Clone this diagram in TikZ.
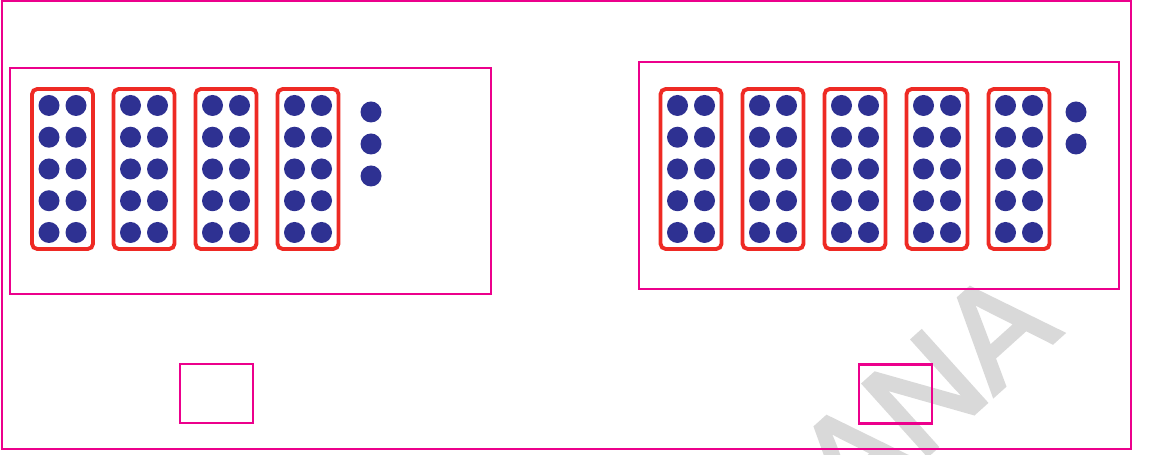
\documentclass[tikz,border=0pt]{standalone}
\usepackage{fontspec}
\setmainfont{Liberation Sans}
\newfontfamily\markfont[FakeBold=3]{Liberation Sans}
\definecolor{frmag}{HTML}{EC008C}
\definecolor{tenred}{HTML}{EE2A24}
\definecolor{dotblue}{HTML}{2E3192}
\definecolor{wmgray}{HTML}{D9D9D9}

\begin{document}
\begin{tikzpicture}[
  panel/.style={draw=frmag, line width=1.3pt, fill=none},
  tenframe/.style={draw=tenred, line width=2.2pt, rounded corners=3pt,
    minimum width=1.22cm, minimum height=3.2cm, inner sep=0pt},
  dot/.style={fill=dotblue},
  ansbox/.style={draw=frmag, line width=1.3pt, minimum width=1.46cm,
    minimum height=1.18cm, inner sep=0pt},
]

% Canvas
\useasboundingbox (0,0) rectangle (22.98,9.1);
\clip (0,0) rectangle (22.98,9.1);

% Watermark
\node[font=\markfont\fontsize{79}{79}\selectfont, text=wmgray, rotate=42,
  anchor=base east, inner sep=0pt] (mark) at (21.26,2.44) {ANA};

% Outer frame
\draw[panel] (0.04,9.08) rectangle (22.62,0.12);

% =============================================
% Left panel: four tens and three ones
% =============================================
\draw[panel] (0.2,7.74) rectangle (9.82,3.22);

\foreach \i/\x in {1/1.25, 2/2.88, 3/4.52, 4/6.16} {
  \node[tenframe] (L\i) at (\x,5.72) {};
  \foreach \dy in {1.27,0.635,0,-0.635,-1.27} {
    \fill[dot] ([xshift=-0.27cm, yshift=\dy cm]L\i.center) circle (0.21);
    \fill[dot] ([xshift=0.27cm, yshift=\dy cm]L\i.center) circle (0.21);
  }
}
\foreach \y in {6.86,6.22,5.58}
  \fill[dot] (7.42,\y) circle (0.21);

% =============================================
% Right panel: five tens and two ones
% =============================================
\draw[panel] (12.78,7.86) rectangle (22.38,3.32);

\foreach \i/\x in {1/13.82, 2/15.46, 3/17.10, 4/18.74, 5/20.38} {
  \node[tenframe] (R\i) at (\x,5.72) {};
  \foreach \dy in {1.27,0.635,0,-0.635,-1.27} {
    \fill[dot] ([xshift=-0.27cm, yshift=\dy cm]R\i.center) circle (0.21);
    \fill[dot] ([xshift=0.27cm, yshift=\dy cm]R\i.center) circle (0.21);
  }
}
\foreach \y in {6.86,6.22}
  \fill[dot] (21.52,\y) circle (0.21);

% Answer boxes
\node[ansbox] (ansL) at (4.33,1.23) {};
\node[ansbox] (ansR) at (17.91,1.22) {};

\end{tikzpicture}
\end{document}
